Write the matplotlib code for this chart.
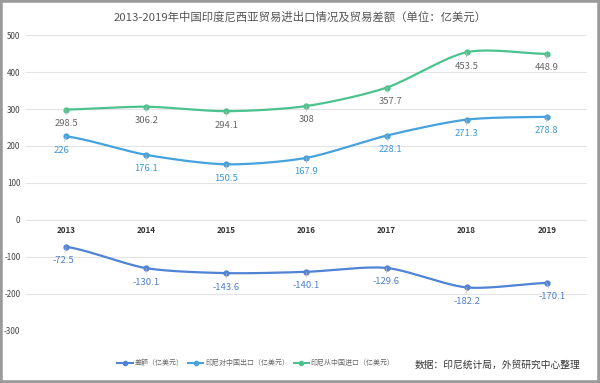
import numpy as np
import matplotlib
matplotlib.use("Agg")
import matplotlib.pyplot as plt
from matplotlib.patches import Rectangle

plt.rcParams['font.family'] = ['Noto Sans CJK SC', 'DejaVu Sans']

years = ['2013', '2014', '2015', '2016', '2017', '2018', '2019']
balance = [-72.5, -130.1, -143.6, -140.1, -129.6, -182.2, -170.1]
exports = [226, 176.1, 150.5, 167.9, 228.1, 271.3, 278.8]
imports = [298.5, 306.2, 294.1, 308, 357.7, 453.5, 448.9]
labels_balance = ['-72.5', '-130.1', '-143.6', '-140.1', '-129.6', '-182.2', '-170.1']
labels_exports = ['226', '176.1', '150.5', '167.9', '228.1', '271.3', '278.8']
labels_imports = ['298.5', '306.2', '294.1', '308', '357.7', '453.5', '448.9']
series_names = ['差额（亿美元）', '印尼对中国出口（亿美元）', '印尼从中国进口（亿美元）']
yticks = [-300, -200, -100, 0, 100, 200, 300, 400, 500]


def smooth(x, y, n=30, t=0.4):
    x = np.asarray(x, float); y = np.asarray(y, float)
    px = np.concatenate([[2 * x[0] - x[1]], x, [2 * x[-1] - x[-2]]])
    py = np.concatenate([[y[0]], y, [y[-1]]])
    xs, ys = [], []
    for i in range(1, len(px) - 2):
        p0, p1, p2, p3 = (np.array([px[j], py[j]]) for j in (i - 1, i, i + 1, i + 2))
        c1 = p1 + (p2 - p0) * t / 3
        c2 = p2 - (p3 - p1) * t / 3
        s = np.linspace(0, 1, n)[:, None]
        b = (1 - s) ** 3 * p1 + 3 * (1 - s) ** 2 * s * c1 + 3 * (1 - s) * s ** 2 * c2 + s ** 3 * p2
        xs.append(b[:, 0]); ys.append(b[:, 1])
    return np.concatenate(xs), np.concatenate(ys)


fig = plt.figure(figsize=(6, 3.83), dpi=100)
ax = fig.add_axes([0.0433, 0.1358, 0.9347, 0.7728])
ax.spines['bottom'].set_position(('data', 0))

x = np.arange(len(years))
colors = ['#4f83d4', '#45a2dc', '#4cc38e']
lab_colors = ['#4f7fcc', '#3d9ad6', '#666666']
data = [balance, exports, imports]
labs = [labels_balance, labels_exports, labels_imports]
dx = [[-2, 0, 0, 0, 0, 0, 4], [-3, 0, 0, 0, 3, 0, 0], [0, 0, 0, 0, 3, 0, 0]]

for k in range(3):
    sx, sy = smooth(x, data[k])
    ax.plot(sx, sy, color=colors[k], lw=1.6, zorder=3, solid_capstyle='round')
    ax.plot(x, data[k], 'o', color=colors[k], ms=3.5, zorder=4)
    for i in range(len(x)):
        ax.annotate(labs[k][i], (x[i], data[k][i]), xytext=(dx[k][i], -10),
                    textcoords='offset points', ha='center', va='center',
                    fontsize=6.8, color=lab_colors[k], zorder=5,
                    arrowprops=dict(arrowstyle='-', color='#bbbbbb', lw=0.5,
                                    shrinkA=1, shrinkB=5))

ax.set_xlim(-0.5, len(years) - 0.5)
ax.set_ylim(-300, 500)
ax.set_yticks(yticks)
ax.set_yticklabels([str(v) for v in yticks], fontsize=5.8, color='#444444')
ax.set_xticks(x)
ax.set_xticklabels(years, fontsize=5.8, color='#333333', fontweight='bold')
for s in ax.spines.values():
    s.set_visible(False)
ax.tick_params(axis='both', length=0)
ax.tick_params(axis='x', pad=4)
ax.tick_params(axis='y', pad=4)
ax.grid(axis='y', color='#e3e3e3', lw=0.8)
ax.set_axisbelow(True)

fig.text(0.5, 0.955, '2013-2019年中国印度尼西亚贸易进出口情况及贸易差额（单位：亿美元）',
         ha='center', va='center', fontsize=8.2, color='#555555')

handles = [plt.Line2D([0], [0], color=c, lw=1.5, marker='o', ms=3) for c in colors]
leg = fig.legend(handles, series_names, loc='center', bbox_to_anchor=(0.427, 0.052),
                 ncol=3, frameon=False, fontsize=5.0, handlelength=2.2,
                 columnspacing=0.6, handletextpad=0.3)
for t in leg.get_texts():
    t.set_color('#666666')

fig.text(0.967, 0.048, '数据：印尼统计局，外贸研究中心整理', ha='right', va='center',
         fontsize=7.0, color='#333333')

fig.patches.append(Rectangle((0, 0), 1, 1, transform=fig.transFigure, fill=False,
                             edgecolor='#9a9a9a', lw=4, zorder=10))

fig.savefig('out.png', dpi=100)
